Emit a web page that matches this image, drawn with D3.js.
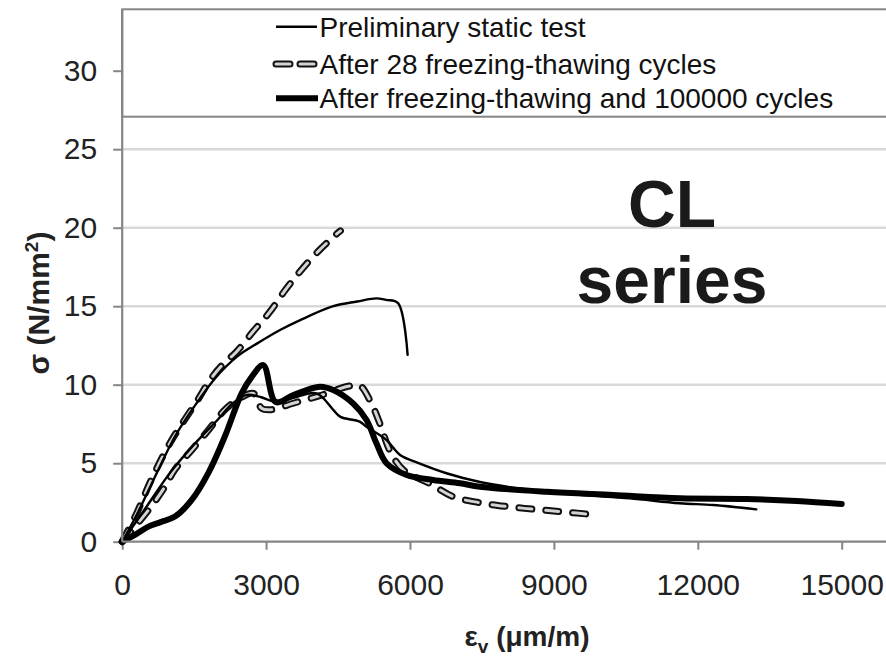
<!DOCTYPE html>
<html>
<head>
<meta charset="utf-8">
<script src="https://cdn.jsdelivr.net/npm/d3@7"></script>
<style>
  html, body { margin: 0; padding: 0; background: #fff; }
  svg { display: block; }
  text { font-family: "Liberation Sans", Arial, sans-serif; }
</style>
</head>
<body>
<svg id="chart" width="886" height="660"></svg>
<script>
// ---- data (strain in µm/m, stress in N/mm²) ----
const xTicks = [0, 3000, 6000, 9000, 12000, 15000];
const yTicks = [0, 5, 10, 15, 20, 25, 30];
const yGrid = [5, 10, 15, 20, 25];

const legendLabels = [
  "Preliminary static test",
  "After 28 freezing-thawing cycles",
  "After freezing-thawing and 100000 cycles"
];

// Preliminary static test (two specimens)
const staticUpper = [[0,0],[300,1.7],[600,3.6],[1100,6.7],[1500,8.6],[1935,10.4],[2400,11.8],[2800,12.6],[3300,13.5],[3700,14.1],[4400,15.0],[4900,15.3],[5300,15.5],[5500,15.4],[5750,15.2],[5950,11.9]];
const staticLower = [[0,0],[500,2.2],[1000,4.4],[1500,6.2],[2000,7.8],[2300,8.8],[2600,9.35],[2900,9.2],[3150,8.95],[3500,9.1],[4050,9.45],[4400,8.4],[4550,7.95],[4950,7.65],[5100,7.3],[5500,6.5],[5800,5.5],[6100,5.1],[6760,4.36],[7460,3.8],[8500,3.3],[9500,3.0],[10580,2.76],[11620,2.45],[12320,2.34],[13220,2.06]];

// After 28 freezing-thawing cycles (two specimens)
const freezeUpper = [[0,0],[300,1.8],[600,3.9],[1000,6.3],[1620,9.25],[1830,10.3],[2100,11.3],[2385,12.1],[2733,13.4],[3081,14.65],[3392,16.0],[3704,17.2],[4088,18.5],[4470,19.6],[4550,19.8]];
const freezeLower = [[0,0],[545,2.0],[890,3.5],[1100,4.6],[1450,5.84],[1795,7.1],[2140,8.4],[2490,9.2],[2733,9.45],[2906,8.5],[3080,8.4],[3600,8.85],[4120,9.3],[4710,9.9],[4950,9.95],[5165,9.0],[5375,7.5],[5580,5.8],[5860,4.57],[6415,3.7],[6900,2.87],[7460,2.48],[8050,2.23],[8600,2.06],[9160,1.91],[9920,1.7]];

// After freezing-thawing and 100000 cycles
const fatigueCurve = [[0,0],[300,0.5],[545,0.96],[800,1.25],[1100,1.6],[1450,2.66],[1800,4.4],[2140,6.7],[2490,9.45],[2700,10.5],[2940,11.25],[3200,8.9],[3566,9.34],[4120,9.87],[4400,9.66],[4815,8.8],[5094,7.75],[5300,6.27],[5510,5.0],[5930,4.25],[6480,3.93],[7040,3.72],[7460,3.5],[8850,3.18],[10240,2.97],[11630,2.76],[13020,2.72],[14060,2.6],[15000,2.4]];

// ---- layout ----
const svg = d3.select("#chart");
const plotLeft = 122.2, plotRight = 892, plotTop = 9.3, plotBottom = 541.7;
const x = d3.scaleLinear().domain([0, 15000]).range([122.2, 841.7]);
const y = d3.scaleLinear().domain([0, 30]).range([541.7, 70.7]);
const axisColor = "#858585";
const gridColor = "#d9d9d9";
const textColor = "#222";

// gridlines
svg.append("g").selectAll("line").data(yGrid).join("line")
  .attr("x1", plotLeft).attr("x2", plotRight)
  .attr("y1", d => y(d)).attr("y2", d => y(d))
  .attr("stroke", gridColor).attr("stroke-width", 2.5);

// y axis ticks + labels
const yAxis = svg.append("g").attr("transform", `translate(${plotLeft},0)`)
  .call(d3.axisLeft(y).tickValues(yTicks).tickSize(9).tickPadding(16));
yAxis.select(".domain").remove();
yAxis.selectAll(".tick line").attr("stroke", axisColor).attr("stroke-width", 2);
yAxis.selectAll(".tick text").attr("fill", textColor)
  .style("font-size", "30px").style("font-family", "'Liberation Sans', Arial, sans-serif");

// x axis ticks + labels
const xAxis = svg.append("g").attr("transform", `translate(0,${plotBottom})`)
  .call(d3.axisBottom(x).tickValues(xTicks).tickSize(8).tickPadding(24.5).tickFormat(d3.format("d")));
xAxis.select(".domain").remove();
xAxis.selectAll(".tick line").attr("stroke", axisColor).attr("stroke-width", 2);
xAxis.selectAll(".tick text").attr("fill", textColor)
  .style("font-size", "30px").style("font-family", "'Liberation Sans', Arial, sans-serif");

// series
const line = d3.line().x(d => x(d[0])).y(d => y(d[1])).curve(d3.curveCatmullRom.alpha(0.5));
const series = svg.append("g");

function drawSolid(data, w) {
  series.append("path").datum(data).attr("d", line)
    .attr("fill", "none").attr("stroke", "#000").attr("stroke-width", w)
    .attr("stroke-linejoin", "round").attr("stroke-linecap", "round");
}
function drawDashed(data) {
  series.append("path").datum(data).attr("d", line)
    .attr("fill", "none").attr("stroke", "#111").attr("stroke-width", 7)
    .attr("stroke-dasharray", "13 14").attr("stroke-linecap", "round");
  series.append("path").datum(data).attr("d", line)
    .attr("fill", "none").attr("stroke", "#d4d4d4").attr("stroke-width", 3)
    .attr("stroke-dasharray", "13 14").attr("stroke-linecap", "round");
}
drawDashed(freezeLower);
drawDashed(freezeUpper);
drawSolid(staticLower, 2.4);
drawSolid(staticUpper, 2.4);
drawSolid(fatigueCurve, 6);

// legend box (covers top of plot)
svg.append("rect").attr("x", plotLeft).attr("y", plotTop)
  .attr("width", plotRight - plotLeft + 10).attr("height", 116.7 - plotTop)
  .attr("fill", "#fff").attr("stroke", axisColor).attr("stroke-width", 2);

// axis lines
svg.append("line").attr("x1", plotLeft).attr("x2", plotLeft)
  .attr("y1", plotTop).attr("y2", plotBottom)
  .attr("stroke", axisColor).attr("stroke-width", 2.2);
svg.append("line").attr("x1", plotLeft).attr("x2", plotRight)
  .attr("y1", plotBottom).attr("y2", plotBottom)
  .attr("stroke", axisColor).attr("stroke-width", 2.2);

// legend entries
const lg = svg.append("g");
const rowY = [26.7, 64, 98.3];
lg.append("line").attr("x1", 276).attr("x2", 317).attr("y1", rowY[0]).attr("y2", rowY[0])
  .attr("stroke", "#000").attr("stroke-width", 2.4);
lg.append("line").attr("x1", 276).attr("x2", 314).attr("y1", rowY[1]).attr("y2", rowY[1])
  .attr("stroke", "#111").attr("stroke-width", 7).attr("stroke-dasharray", "14 10").attr("stroke-linecap", "round");
lg.append("line").attr("x1", 276).attr("x2", 314).attr("y1", rowY[1]).attr("y2", rowY[1])
  .attr("stroke", "#d4d4d4").attr("stroke-width", 3).attr("stroke-dasharray", "14 10").attr("stroke-linecap", "round");
lg.append("line").attr("x1", 276).attr("x2", 318).attr("y1", rowY[2]).attr("y2", rowY[2])
  .attr("stroke", "#000").attr("stroke-width", 6);
lg.selectAll("text").data(legendLabels).join("text")
  .attr("x", 319.5).attr("y", (d, i) => rowY[i] + 10)
  .attr("fill", "#111").style("font-size", "28px")
  .text(d => d);

// annotation
const ann = svg.append("g").attr("fill", "#1a1a1a")
  .style("font-size", "66px").style("font-weight", "bold").attr("text-anchor", "middle");
ann.append("text").attr("x", 672).attr("y", 227).text("CL");
ann.append("text").attr("x", 672).attr("y", 303).text("series");

// axis titles
const xt = svg.append("text").attr("x", 527).attr("y", 646).attr("text-anchor", "middle")
  .attr("fill", textColor).style("font-size", "28px").style("font-weight", "bold");
xt.append("tspan").text("ε");
xt.append("tspan").attr("dy", 7).style("font-size", "19px").text("v");
xt.append("tspan").attr("dy", -7).text(" (μm/m)");

const yt = svg.append("text").attr("transform", "translate(49,303) rotate(-90)")
  .attr("text-anchor", "middle").attr("fill", textColor)
  .style("font-size", "30px").style("font-weight", "bold");
yt.append("tspan").text("σ (N/mm");
yt.append("tspan").attr("dy", -11).style("font-size", "19px").text("2");
yt.append("tspan").attr("dy", 11).text(")");
</script>
</body>
</html>
